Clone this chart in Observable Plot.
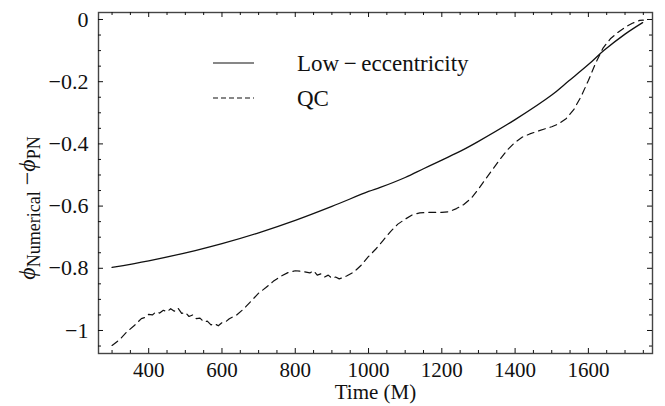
<!DOCTYPE html>
<html><head><meta charset="utf-8">
<script src="https://cdn.jsdelivr.net/npm/d3@7"></script>
<script src="https://cdn.jsdelivr.net/npm/@observablehq/plot@0.6"></script>
<style>body{margin:0;background:#fff;}</style>
</head><body><div id="chart"></div>
<script>
// Low-eccentricity run
const lowTime  = [300, 400, 527, 600, 700, 800, 900, 1000, 1032, 1100, 1150, 1200, 1255, 1300, 1400, 1500, 1546, 1600, 1642, 1700, 1748];
const lowPhase = [-0.797, -0.776, -0.743, -0.721, -0.686, -0.646, -0.601, -0.553, -0.540, -0.508, -0.480, -0.452, -0.421, -0.392, -0.322, -0.243, -0.198, -0.145, -0.100, -0.047, -0.010];
// QC run
const qcTime  = [300, 320, 340, 360, 380, 390, 400, 410, 420, 430, 440, 450, 460, 470, 480, 490, 500, 510, 520, 530, 540, 550, 560, 570, 580, 590, 600, 610, 620, 640, 660, 680, 700, 720, 740, 760, 780, 800, 820, 840, 850, 860, 870, 880, 890, 900, 910, 920, 940, 960, 980, 1000, 1020, 1040, 1060, 1080, 1100, 1120, 1140, 1160, 1180, 1200, 1220, 1240, 1260, 1280, 1300, 1320, 1340, 1360, 1380, 1400, 1420, 1440, 1460, 1480, 1500, 1520, 1540, 1560, 1580, 1600, 1620, 1640, 1660, 1680, 1700, 1720, 1740, 1750];
const qcPhase = [-1.048, -1.030, -1.005, -0.985, -0.962, -0.958, -0.948, -0.950, -0.940, -0.944, -0.935, -0.940, -0.930, -0.938, -0.928, -0.945, -0.942, -0.955, -0.950, -0.962, -0.960, -0.972, -0.970, -0.982, -0.978, -0.985, -0.975, -0.972, -0.962, -0.950, -0.930, -0.905, -0.880, -0.862, -0.842, -0.826, -0.814, -0.808, -0.810, -0.815, -0.808, -0.822, -0.818, -0.828, -0.822, -0.832, -0.828, -0.834, -0.825, -0.812, -0.790, -0.762, -0.738, -0.710, -0.682, -0.658, -0.642, -0.628, -0.622, -0.620, -0.620, -0.620, -0.618, -0.608, -0.595, -0.575, -0.545, -0.512, -0.480, -0.448, -0.418, -0.395, -0.378, -0.368, -0.360, -0.352, -0.345, -0.335, -0.318, -0.290, -0.248, -0.196, -0.140, -0.092, -0.062, -0.042, -0.025, -0.012, -0.003, -0.002];

const xTicks = [400, 600, 800, 1000, 1200, 1400, 1600];
const yTicks = [-1, -0.8, -0.6, -0.4, -0.2, 0];
const xMinorTicks = [300, 350, 450, 500, 550, 650, 700, 750, 850, 900, 950, 1050, 1100, 1150, 1250, 1300, 1350, 1450, 1500, 1550, 1650, 1700, 1750];
const yMinorTicks = [-1.05, -0.95, -0.9, -0.85, -0.75, -0.7, -0.65, -0.55, -0.5, -0.45, -0.35, -0.3, -0.25, -0.15, -0.1, -0.05];
const seriesNames = ["Low\u2009\u2212\u2009eccentricity", "QC"];
const xLabel = "Time (M)";

const low = lowTime.map((t, i) => ({t, p: lowPhase[i]}));
const qc = qcTime.map((t, i) => ({t, p: qcPhase[i]}));

const W = 665, H = 406, mL = 98, mR = 13, mT = 12, mB = 53;
const fw = W - mL - mR, fh = H - mT - mB;
const font = "'Liberation Serif', 'Times New Roman', serif";
const ink = "#111";

const tickMarks = (vals, len) => [
  Plot.ruleX(vals, {x: d => d, insetTop: fh - len, stroke: ink, strokeWidth: 1}),
  Plot.ruleX(vals, {x: d => d, insetBottom: fh - len, stroke: ink, strokeWidth: 1})
];
const tickMarksY = (vals, len) => [
  Plot.ruleY(vals, {y: d => d, insetRight: fw - len, stroke: ink, strokeWidth: 1}),
  Plot.ruleY(vals, {y: d => d, insetLeft: fw - len, stroke: ink, strokeWidth: 1})
];

const chart = Plot.plot({
  width: W, height: H,
  marginLeft: mL, marginRight: mR, marginTop: mT, marginBottom: mB,
  style: {fontFamily: font, fontSize: "21px", background: "#fff", color: ink},
  x: {domain: [263, 1775]},
  y: {domain: [-1.074, 0.0225]},
  marks: [
    Plot.frame({stroke: "#444", strokeWidth: 1.4}),
    ...tickMarks(xTicks, 5), ...tickMarks(xMinorTicks, 3),
    ...tickMarksY(yTicks, 5), ...tickMarksY(yMinorTicks, 3),
    Plot.axisX({ticks: xTicks, tickSize: 0, tickPadding: 9, label: null, fontSize: 21,
      tickFormat: d => String(d)}),
    Plot.axisY({ticks: yTicks, tickSize: 0, tickPadding: 10, label: null, fontSize: 22,
      tickFormat: d => d === 0 ? "0" : "\u2212" + Math.abs(d)}),
    Plot.text([xLabel], {frameAnchor: "bottom", dy: 39, text: d => d, fontSize: 21, lineAnchor: "middle"}),
    Plot.line(low, {x: "t", y: "p", curve: "catmull-rom", stroke: ink, strokeWidth: 1.3}),
    Plot.line(qc, {x: "t", y: "p", curve: "linear", stroke: ink, strokeWidth: 1.2, strokeDasharray: "7,5"})
  ]
});
document.getElementById("chart").appendChild(chart);

const svg = d3.select(chart);
// Legend
const dashes = [null, "5,3"];
seriesNames.forEach((name, i) => {
  const y = 63 + i * 35;
  svg.append("line").attr("x1", 213).attr("x2", 254).attr("y1", y).attr("y2", y)
    .attr("stroke", ink).attr("stroke-width", 1.2).attr("stroke-dasharray", dashes[i]);
  svg.append("text").attr("x", 297).attr("y", y).attr("dy", "0.35em")
    .attr("text-anchor", "start")
    .attr("font-family", font).attr("font-size", 23).attr("fill", ink).text(name);
});
// Y label with subscripts
const yl = svg.append("text").attr("transform", "translate(35,208) rotate(-90)")
  .attr("text-anchor", "middle").attr("font-family", font).attr("font-size", 24).attr("fill", ink);
yl.append("tspan").attr("font-style", "italic").text("\u03D5");
yl.append("tspan").attr("font-size", 18).attr("dy", 5).text("Numerical");
yl.append("tspan").attr("dy", -5).text(" \u2212");
yl.append("tspan").attr("font-style", "italic").text("\u03D5");
yl.append("tspan").attr("font-size", 18).attr("dy", 5).text("PN");
</script>
</body></html>
